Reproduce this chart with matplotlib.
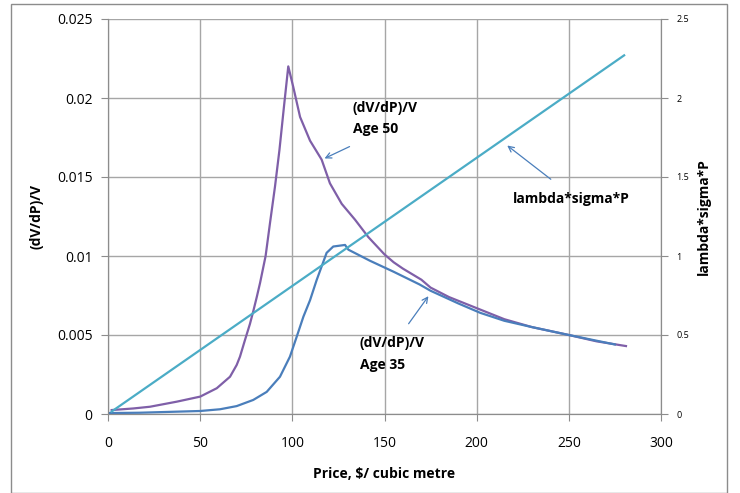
import numpy as np
from matplotlib import pyplot as plt
from matplotlib.patches import Rectangle

plt.rcParams['font.family'] = ['Open Sans', 'DejaVu Sans']

# Age 50 curve
p50 = [2, 13.7, 22.8, 37.3, 50, 59, 66.2, 69.8, 71.6, 74.3, 77, 78.8, 80.7, 82.5, 85.5, 87.9,
       90.6, 93, 95.5, 97.8,
       100.5, 104.2, 109.6, 115.9, 120.4, 126.8, 134, 141.2, 150, 155, 160, 170, 175, 185,
       200, 215, 230, 250, 265, 281]
v50 = [0.00025, 0.00035, 0.00046, 0.00078, 0.0011, 0.00163, 0.00236, 0.0031, 0.00363, 0.00468,
       0.0057, 0.0065, 0.0074, 0.0083, 0.0100, 0.0121,
       0.0144, 0.0167, 0.0195, 0.0220,
       0.0207, 0.0188, 0.0173, 0.0161, 0.0146, 0.0133, 0.0123, 0.0112, 0.0101, 0.0096, 0.0092,
       0.0085, 0.0080, 0.0074, 0.0067, 0.0060, 0.0055, 0.0050, 0.0046, 0.0043]

# Age 35 curve
p35 = [0, 17, 50, 60.8, 69.8, 78.8, 86.1, 93.3, 98.7, 102.4, 106, 109.6, 113.2, 118.6, 122.2,
       128.6, 130.4, 142.1, 155, 169, 175, 190, 202, 215, 230, 250, 275]
v35 = [0.00006, 0.00008, 0.00019, 0.0003, 0.0005, 0.00089, 0.0014, 0.00236, 0.00363, 0.0049, 0.00616,
       0.0072, 0.00848, 0.0102, 0.0106, 0.0107, 0.0104, 0.0097, 0.0090, 0.0082, 0.0078, 0.0070,
       0.0064, 0.0059, 0.0055, 0.0050, 0.0044]

# lambda*sigma*P (right axis)
p_ls = [2, 280]
ls = [0.016, 2.27]

fig = plt.figure(figsize=(7.4, 4.93), dpi=100)
fig.patches.append(Rectangle((11/740, 0.0), 716/740, 1 - 4/493, transform=fig.transFigure,
                             fill=False, edgecolor='#8c8c8c', linewidth=1))
ax = fig.add_axes([108/740, 79/493, 553/740, 395/493])
ax2 = ax.twinx()

ax.plot(p50, v50, color='#7f5fa8', lw=1.6, zorder=3)
ax.plot(p35, v35, color='#4a7ebb', lw=1.6, zorder=3)
ax2.plot(p_ls, ls, color='#4bacc6', lw=1.6, zorder=3)

ax.set_xlim(0, 300)
ax.set_ylim(0, 0.025)
ax2.set_ylim(0, 2.5)
ax.set_xticks(np.arange(0, 301, 50))
ax.set_yticks([0, 0.005, 0.01, 0.015, 0.02, 0.025])
ax.set_yticklabels(['0', '0.005', '0.01', '0.015', '0.02', '0.025'])
ax2.set_yticks([0, 0.5, 1, 1.5, 2, 2.5])
ax2.set_yticklabels(['0', '0.5', '1', '1.5', '2', '2.5'])

ax.grid(True, color='#a6a6a6', lw=1)
for a in (ax, ax2):
    for s in a.spines.values():
        s.set_color('#8c8c8c')
    a.spines['top'].set_visible(False)
ax.tick_params(axis='both', labelsize=10, color='#8c8c8c', length=5, pad=6)
ax.tick_params(axis='x', pad=11)
ax2.tick_params(axis='y', labelsize=6.5, color='#8c8c8c', length=5, pad=6)

ax.set_xlabel('Price, $/ cubic metre', fontsize=10, fontweight='bold', labelpad=11)
ax.set_ylabel('(dV/dP)/V', fontsize=10, fontweight='bold', labelpad=10)
ax2.set_ylabel('lambda*sigma*P', fontsize=10, fontweight='bold', labelpad=6)

ax.text(132.9, 0.0187, '(dV/dP)/V\nAge 50', fontsize=10, fontweight='bold', va='center', linespacing=1.7)
ax.annotate('', xy=(116.1, 0.0161), xytext=(132.4, 0.0170),
            arrowprops=dict(arrowstyle='->', color='#4a7ebb', lw=0.9))
ax.text(219.6, 0.0136, 'lambda*sigma*P', fontsize=10, fontweight='bold', va='center')
ax.annotate('', xy=(215.4, 0.0171), xytext=(241.4, 0.01475),
            arrowprops=dict(arrowstyle='->', color='#4a7ebb', lw=0.9))
ax.text(136.7, 0.0038, '(dV/dP)/V\nAge 35', fontsize=10, fontweight='bold', va='center', linespacing=1.7)
ax.annotate('', xy=(174.7, 0.0076), xytext=(162.2, 0.00557),
            arrowprops=dict(arrowstyle='->', color='#4a7ebb', lw=0.9))

fig.savefig('out.png', dpi=100)
